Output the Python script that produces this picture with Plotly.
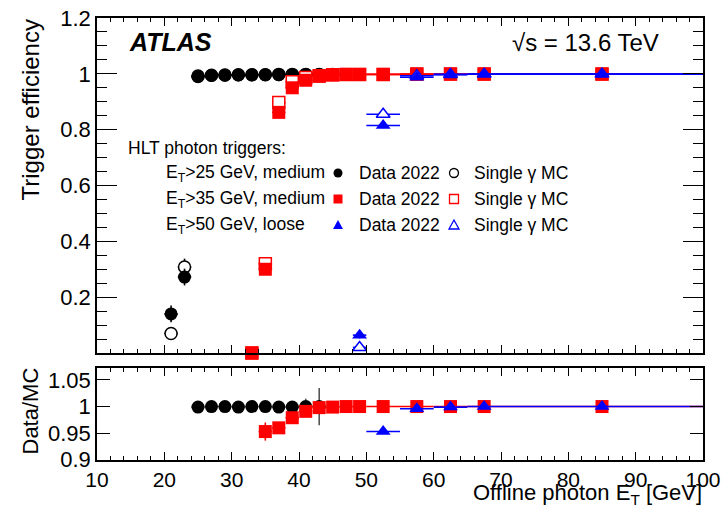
import plotly.graph_objects as go

# ---------------- data ----------------
# HLT photon trigger E_T>25 GeV, medium
x25 = [21, 23, 25, 27, 29, 31, 33, 35, 37, 39, 41, 43, 45]
xerr25 = [1, 1, 1, 1, 1, 1, 1, 1, 1, 1, 1, 1, 1]
eff25_data = [0.140, 0.272, 0.990, 0.994, 0.995, 0.996, 0.996, 0.997, 0.997, 0.997, 0.998, 0.998, 0.998]
err25_data = [0.030, 0.030, 0.004, 0.003, 0.003, 0.003, 0.003, 0.003, 0.003, 0.003, 0.004, 0.006, 0.006]
eff25_mc = [0.070, 0.308, 0.992, 0.995, 0.996, 0.997, 0.997, 0.997, 0.998, 0.998, 0.998, 0.998, 0.998]
err25_mc = [0.020, 0.030, 0.002, 0.002, 0.002, 0.002, 0.002, 0.002, 0.002, 0.002, 0.002, 0.002, 0.002]
xr25 = [25, 27, 29, 31, 33, 35, 37, 39, 41, 43]
xerr_r25 = [1, 1, 1, 1, 1, 1, 1, 1, 1, 1]
ratio25 = [0.999, 1.000, 1.000, 0.999, 1.000, 1.000, 0.999, 0.999, 1.000, 1.000]
ratio25_err = [0.002, 0.002, 0.002, 0.002, 0.002, 0.002, 0.002, 0.003, 0.015, 0.035]

# HLT photon trigger E_T>35 GeV, medium
x35 = [33, 35, 37, 39, 41, 43, 45, 47, 49, 52.5, 57.5, 62.5, 67.5, 85]
xerr35 = [1, 1, 1, 1, 1, 1, 1, 1, 1, 2.5, 2.5, 2.5, 2.5, 15]
eff35_data = [0.000, 0.300, 0.862, 0.950, 0.977, 0.991, 0.996, 0.998, 0.998, 0.998, 0.999, 0.999, 0.999, 0.999]
err35_data = [0.004, 0.010, 0.010, 0.006, 0.004, 0.003, 0.002, 0.002, 0.002, 0.002, 0.002, 0.002, 0.002, 0.001]
eff35_mc = [0.000, 0.320, 0.897, 0.972, 0.987, 0.993, 0.997, 0.998, 0.998, 0.998, 0.999, 0.999, 0.999, 0.999]
err35_mc = [0.004, 0.010, 0.008, 0.005, 0.003, 0.002, 0.002, 0.002, 0.002, 0.002, 0.002, 0.002, 0.002, 0.001]
xr35 = [35, 37, 39, 41, 43, 45, 47, 49, 52.5, 57.5, 62.5, 67.5, 85]
xerr_r35 = [1, 1, 1, 1, 1, 1, 1, 1, 2.5, 2.5, 2.5, 2.5, 15]
ratio35 = [0.953, 0.960, 0.979, 0.991, 0.998, 0.999, 1.000, 1.000, 1.000, 1.000, 1.000, 1.000, 1.000]
ratio35_err = [0.017, 0.008, 0.005, 0.004, 0.003, 0.002, 0.002, 0.002, 0.002, 0.002, 0.002, 0.002, 0.001]

# HLT photon trigger E_T>50 GeV, loose
x50 = [49, 52.5, 57.5, 62.5, 67.5, 85]
xerr50 = [1, 2.5, 2.5, 2.5, 2.5, 15]
eff50_data = [0.064, 0.815, 0.988, 0.997, 0.999, 0.999]
err50_data = [0.012, 0.010, 0.004, 0.002, 0.002, 0.001]
eff50_mc = [0.020, 0.855, 0.993, 0.998, 0.999, 0.999]
err50_mc = [0.010, 0.008, 0.003, 0.002, 0.002, 0.001]
xr50 = [52.5, 57.5, 62.5, 67.5, 85]
xerr_r50 = [2.5, 2.5, 2.5, 2.5, 15]
ratio50 = [0.953, 0.996, 0.999, 1.000, 1.000]
ratio50_err = [0.003, 0.003, 0.002, 0.002, 0.001]

y_ticks_main = [0.2, 0.4, 0.6, 0.8, 1.0, 1.2]
y_ticktext_main = ["0.2", "0.4", "0.6", "0.8", "1", "1.2"]
y_ticks_ratio = [0.9, 0.95, 1.0, 1.05]
y_ticktext_ratio = ["0.9", "0.95", "1", "1.05"]

# ---------------- geometry ----------------
W, H = 723, 508
L, R, T, B = 97, 20, 18, 48
PW, PH = W - L - R, H - T - B
FONT = "Liberation Sans, Arial, Helvetica, sans-serif"


def px(x):
    return (x - L) / PW


def py(y):
    return (H - B - y) / PH


BLACK, RED, BLUE = "#000000", "#ff0000", "#0000ff"

fig = go.Figure()


def add_series(x, xe, y, ye, color, symbol, filled, xa, ya, ecolor=None, size=13):
    ecolor = ecolor or color
    if filled:
        marker = dict(color=color, symbol=symbol, size=size, line=dict(width=0))
    else:
        marker = dict(color="white", symbol=symbol, size=size - 1,
                      line=dict(color=color, width=1.5))
    fig.add_trace(go.Scatter(
        x=x, y=y, mode="markers", xaxis=xa, yaxis=ya, marker=marker,
        error_x=dict(type="data", array=xe, color=ecolor, thickness=1.6, width=0),
        error_y=dict(type="data", array=ye, color=ecolor, thickness=1.6, width=0),
        cliponaxis=False, showlegend=False, hoverinfo="x+y"))


# main panel
add_series(x25, xerr25, eff25_mc, err25_mc, BLACK, "circle", False, "x", "y")
add_series(x25, xerr25, eff25_data, err25_data, BLACK, "circle", True, "x", "y")
add_series(x35, xerr35, eff35_mc, err35_mc, RED, "square", False, "x", "y")
add_series(x35, xerr35, eff35_data, err35_data, RED, "square", True, "x", "y")
add_series(x50, xerr50, eff50_mc, err50_mc, BLUE, "triangle-up", False, "x", "y")
add_series(x50, xerr50, eff50_data, err50_data, BLUE, "triangle-up", True, "x", "y")

# ratio panel
add_series(xr25, xerr_r25, ratio25, ratio25_err, BLACK, "circle", True, "x2", "y2", ecolor="#555555")
add_series(xr35, xerr_r35, ratio35, ratio35_err, RED, "square", True, "x2", "y2")
add_series(xr50, xerr_r50, ratio50, ratio50_err, BLUE, "triangle-up", True, "x2", "y2")

axis_common = dict(showline=True, linecolor="black", linewidth=1.5, mirror="allticks",
                   ticks="inside", tickcolor="black", tickwidth=1.2, showgrid=False,
                   zeroline=False, automargin=False,
                   tickfont=dict(family=FONT, size=22, color="black"))

xminor = dict(dtick=2, tick0=0, ticklen=4, ticks="inside", tickcolor="black",
              tickwidth=1, showgrid=False)

fig.update_layout(
    width=W, height=H,
    margin=dict(l=L, r=R, t=T, b=B, autoexpand=False),
    paper_bgcolor="white", plot_bgcolor="white",
    font=dict(family=FONT, color="black"),
    xaxis=dict(axis_common, anchor="y", domain=[0, 1], range=[10, 100], tick0=0, dtick=10,
               ticklen=8, minor=xminor, showticklabels=False, matches="x2"),
    xaxis2=dict(axis_common, anchor="y2", domain=[0, 1], range=[10, 100], tick0=0, dtick=10,
                ticklen=8, minor=xminor),
    yaxis=dict(axis_common, anchor="x", domain=[py(353), 1], range=[0.0, 1.2],
               tickmode="array", tickvals=y_ticks_main, ticktext=y_ticktext_main,
               ticklen=20, minor=dict(dtick=0.05, tick0=0, ticklen=10, ticks="inside",
                                      tickcolor="black", tickwidth=1, showgrid=False)),
    yaxis2=dict(axis_common, anchor="x2", domain=[0, py(368)], range=[0.8995, 1.0725],
                tickmode="array", tickvals=y_ticks_ratio, ticktext=y_ticktext_ratio,
                ticklen=13),
)
fig.update_xaxes(tickfont_size=21)

ann = []


def text(s, x, y, size, xanchor="left", yanchor="middle", angle=0):
    ann.append(dict(text=s, x=x, y=y, xref="paper", yref="paper", showarrow=False,
                    xanchor=xanchor, yanchor=yanchor, textangle=angle,
                    font=dict(family=FONT, size=size, color="black")))


text("<b><i>ATLAS</i></b>", px(127), py(42), 25)
text("√s = 13.6 TeV", px(661), py(42), 24, xanchor="right")
text("Trigger efficiency", px(30), py(18), 24, xanchor="center", yanchor="top", angle=-90)
text("Data/MC", px(30), py(366), 22, xanchor="center", yanchor="top", angle=-90)
text("Offline photon E<sub>T</sub> [GeV]", px(704), py(494), 22, xanchor="right")

LF = 17.5
text("HLT photon triggers:", px(126), py(148), LF)
rows = [173, 199, 225]
labels = ["E<sub>T</sub>>25 GeV, medium", "E<sub>T</sub>>35 GeV, medium", "E<sub>T</sub>>50 GeV, loose"]
for yy, lab in zip(rows, labels):
    text(lab, px(164), py(yy), LF)
    text("Data 2022", px(357), py(yy), LF)
    text("Single γ MC", px(472), py(yy), LF)
fig.update_layout(annotations=ann)

shapes = []


def marker_shape(kind, cx, cy, color, filled):
    base = dict(xref="paper", yref="paper", xsizemode="pixel", ysizemode="pixel",
                xanchor=px(cx), yanchor=py(cy),
                fillcolor=color if filled else "white",
                line=dict(color=color, width=0 if filled else 1.3))
    if kind == "circle":
        base.update(type="circle", x0=-4.5, x1=4.5, y0=-4.5, y1=4.5)
    elif kind == "square":
        base.update(type="rect", x0=-4.5, x1=4.5, y0=-4.5, y1=4.5)
    else:
        base.update(type="path", path="M -5,-4 L 5,-4 L 0,5 Z")
    shapes.append(base)


for yy, kind, col in zip(rows, ["circle", "square", "tri"], [BLACK, RED, BLUE]):
    marker_shape(kind, 338, yy, col, True)
    marker_shape(kind, 454, yy, col, False)
fig.update_layout(shapes=shapes)

fig.write_html("out.html")
